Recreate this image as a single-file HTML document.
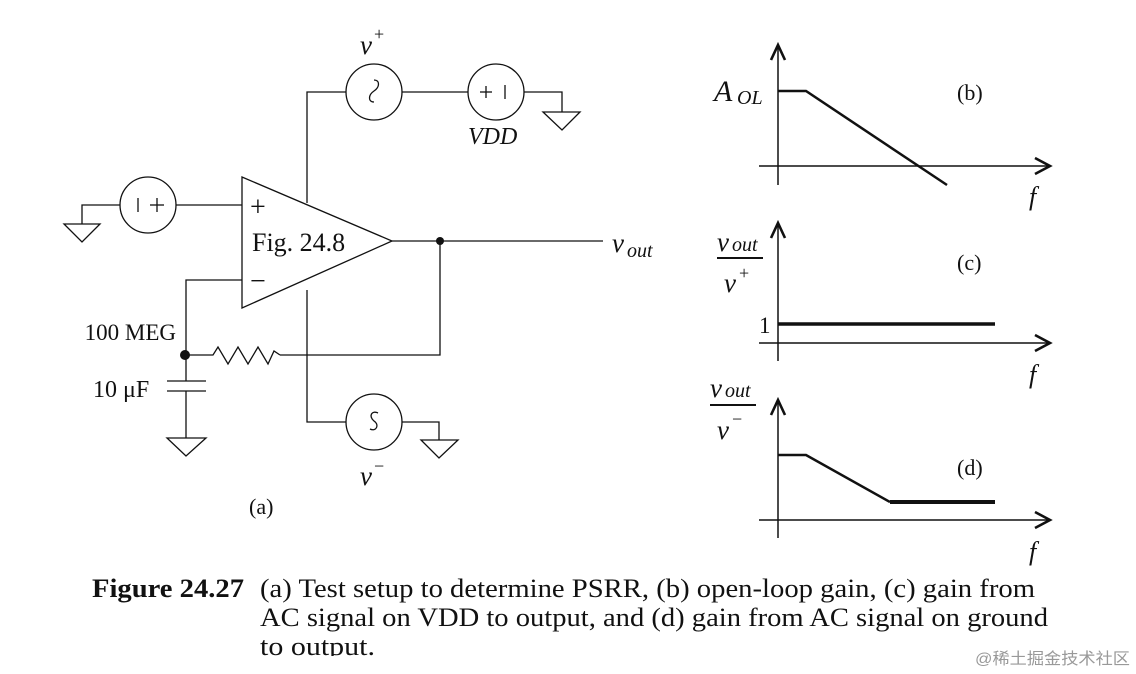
<!DOCTYPE html>
<html><head><meta charset="utf-8"><style>
html,body{margin:0;padding:0;background:#fff;}
svg{display:block;}
text{font-family:"Liberation Serif",serif;fill:#111;}
</style></head><body>
<svg width="1136" height="674" viewBox="0 0 1136 674" xmlns="http://www.w3.org/2000/svg">
<g stroke="#111" stroke-width="1.3" fill="none">
<polygon points="242,177 242,308 392,241"/>
<circle cx="374" cy="92" r="28"/>
<path d="M374,80 c6,0 6,7 0,11 c-6,4 -6,11 0,11" />
<polyline points="346,92 307,92 307,203"/>
<line x1="402" y1="92" x2="468" y2="92"/>
<circle cx="496" cy="92" r="28"/>
<line x1="480" y1="92" x2="492" y2="92"/><line x1="486" y1="86" x2="486" y2="98"/>
<line x1="505" y1="85" x2="505" y2="99"/>
<polyline points="524,92 562,92 562,112"/>
<polygon points="543,112 580,112 562,130"/>
<circle cx="148" cy="205" r="28"/>
<line x1="138" y1="198" x2="138" y2="212"/>
<line x1="150" y1="205" x2="164" y2="205"/><line x1="157" y1="198" x2="157" y2="212"/>
<line x1="176" y1="205" x2="242" y2="205"/>
<polyline points="120,205 82,205 82,224"/>
<polygon points="64,224 100,224 82,242"/>
<line x1="392" y1="241" x2="603" y2="241"/>
<polyline points="440,241 440,355 280,355"/>
<polyline points="242,280 186,280 186,381"/>
<polyline points="186,355 213,355 218,347 228,364 238,347 248,364 258,347 268,364 274,351 280,355"/>
<line x1="167" y1="381" x2="206" y2="381"/>
<line x1="167" y1="391" x2="206" y2="391"/>
<polyline points="186,391 186,438"/>
<polygon points="167,438 206,438 186,456"/>
<polyline points="307,290 307,422 346,422"/>
<circle cx="374" cy="422" r="28"/>
<path d="M378,413 c-6,-3 -10,3 -4,8 c6,4 2,11 -4,8"/>
<polyline points="402,422 439,422 439,440"/>
<polygon points="421,440 458,440 439,458"/>
</g>
<circle cx="440" cy="241" r="4" fill="#111"/>
<circle cx="185" cy="355" r="5" fill="#111"/>
<text x="250" y="216" font-size="28">+</text>
<text x="250" y="290" font-size="28">−</text>
<text x="252" y="251" font-size="26">Fig. 24.8</text>
<text x="360" y="54" font-size="27" font-style="italic">v</text><text x="374" y="40" font-size="18">+</text>
<text x="468" y="144" font-size="24" font-style="italic">VDD</text>
<text x="612" y="252" font-size="27" font-style="italic">v</text><text x="627" y="257" font-size="20" font-style="italic">out</text>
<text x="176" y="340" font-size="23" text-anchor="end">100 MEG</text>
<text x="93" y="397" font-size="24">10 μF</text>
<text x="360" y="485" font-size="27" font-style="italic">v</text><text x="374" y="472" font-size="18">−</text>
<text x="249" y="514" font-size="22">(a)</text>

<g stroke="#111" stroke-width="1.5" fill="none">
<line x1="778" y1="47" x2="778" y2="185"/>
<line x1="759" y1="166" x2="1048" y2="166"/>
<line x1="778" y1="225" x2="778" y2="361"/>
<line x1="759" y1="343" x2="1048" y2="343"/>
<line x1="778" y1="402" x2="778" y2="538"/>
<line x1="759" y1="520" x2="1048" y2="520"/>
<polyline points="778,91 806,91 947,185" stroke-width="2.5"/>
<line x1="778" y1="324" x2="995" y2="324" stroke-width="3.5"/>
<polyline points="778,455 806,455 890,502" stroke-width="2.5"/>
<line x1="890" y1="502" x2="995" y2="502" stroke-width="4"/>
<line x1="717" y1="258" x2="763" y2="258" stroke-width="2"/>
<line x1="710" y1="405" x2="756" y2="405" stroke-width="2"/>
</g>
<g stroke="#111" stroke-width="2.6" fill="none" stroke-linejoin="miter">
<polyline points="771,60 778,45 785,60"/>
<polyline points="1035,158 1050,166 1035,174"/>
<polyline points="771,238 778,223 785,238"/>
<polyline points="1035,335 1050,343 1035,351"/>
<polyline points="771,415 778,400 785,415"/>
<polyline points="1035,512 1050,520 1035,528"/>
</g>
<text x="714" y="101" font-size="30" font-style="italic">A</text><text x="737" y="104" font-size="20" font-style="italic">OL</text>
<text x="957" y="100" font-size="22">(b)</text>
<text x="1029" y="205" font-size="26" font-style="italic">f</text>
<text x="717" y="251" font-size="27" font-style="italic">v</text><text x="732" y="251" font-size="20" font-style="italic">out</text>
<text x="724" y="292" font-size="27" font-style="italic">v</text><text x="739" y="279" font-size="18">+</text>
<text x="957" y="270" font-size="22">(c)</text>
<text x="759" y="333" font-size="23">1</text>
<text x="1029" y="383" font-size="26" font-style="italic">f</text>
<text x="710" y="397" font-size="27" font-style="italic">v</text><text x="725" y="397" font-size="20" font-style="italic">out</text>
<text x="717" y="439" font-size="27" font-style="italic">v</text><text x="732" y="425" font-size="18">−</text>
<text x="957" y="475" font-size="22">(d)</text>
<text x="1029" y="560" font-size="26" font-style="italic">f</text>

<text x="92" y="597" font-size="26" font-weight="bold" textLength="152" lengthAdjust="spacingAndGlyphs">Figure 24.27</text>
<text x="260" y="597" font-size="26" textLength="775" lengthAdjust="spacingAndGlyphs">(a) Test setup to determine PSRR, (b) open-loop gain, (c) gain from</text>
<text x="260" y="626" font-size="26" textLength="788" lengthAdjust="spacingAndGlyphs">AC signal on VDD to output, and (d) gain from AC signal on ground</text>
<text x="260" y="655" font-size="26" textLength="115" lengthAdjust="spacingAndGlyphs">to output.</text>
<rect x="0" y="656" width="1136" height="18" fill="#fff"/>
<text x="975" y="664" font-size="16" textLength="155" lengthAdjust="spacingAndGlyphs" style="font-family:'Liberation Sans','Noto Sans CJK SC',sans-serif;fill:#999">@稀土掘金技术社区</text>
</svg>
</body></html>
